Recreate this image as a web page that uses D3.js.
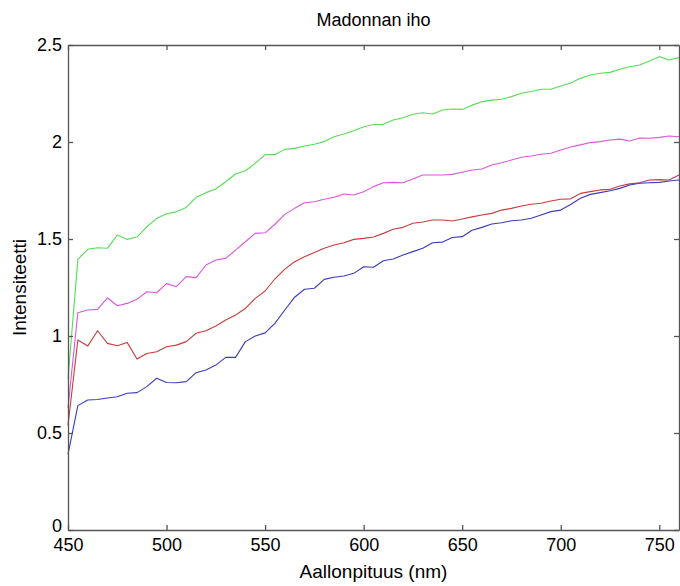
<!DOCTYPE html>
<html>
<head>
<meta charset="utf-8">
<script src="https://cdn.jsdelivr.net/npm/d3@7/dist/d3.min.js"></script>
<style>
  html, body { margin: 0; padding: 0; background: #fff; }
  text { font-family: "Liberation Sans", Arial, sans-serif; fill: #000; }
</style>
</head>
<body>
<svg id="chart" width="680" height="586"></svg>
<script>
const wavelengths = d3.range(450, 761, 5);
const green = [0.78,1.395,1.447,1.455,1.452,1.52,1.498,1.51,1.563,1.606,1.63,1.64,1.663,1.715,1.739,1.758,1.795,1.835,1.852,1.89,1.935,1.935,1.962,1.967,1.979,1.988,2.002,2.027,2.041,2.058,2.079,2.09,2.091,2.113,2.125,2.143,2.151,2.144,2.165,2.17,2.168,2.19,2.208,2.216,2.22,2.234,2.251,2.26,2.272,2.272,2.289,2.304,2.328,2.345,2.354,2.359,2.375,2.388,2.397,2.418,2.44,2.423,2.435];
const magenta = [0.63,1.12,1.134,1.137,1.197,1.156,1.168,1.189,1.228,1.223,1.27,1.254,1.306,1.301,1.366,1.392,1.40,1.443,1.486,1.529,1.532,1.576,1.627,1.658,1.687,1.692,1.705,1.715,1.732,1.727,1.744,1.77,1.79,1.792,1.79,1.809,1.83,1.83,1.83,1.833,1.844,1.856,1.861,1.881,1.893,1.907,1.921,1.928,1.937,1.942,1.959,1.974,1.985,1.997,2.002,2.01,2.015,2.005,2.021,2.019,2.024,2.031,2.027];
const red = [0.54,0.979,0.948,1.027,0.962,0.95,0.967,0.881,0.91,0.919,0.945,0.953,0.971,1.014,1.027,1.052,1.082,1.108,1.142,1.194,1.232,1.295,1.345,1.383,1.409,1.43,1.452,1.469,1.481,1.498,1.503,1.51,1.529,1.55,1.56,1.581,1.588,1.598,1.598,1.593,1.603,1.614,1.624,1.632,1.649,1.658,1.67,1.679,1.684,1.696,1.705,1.707,1.735,1.744,1.753,1.756,1.773,1.784,1.79,1.804,1.806,1.804,1.83];
const blue = [0.39,0.641,0.67,0.673,0.68,0.687,0.705,0.708,0.739,0.782,0.76,0.759,0.765,0.811,0.825,0.85,0.89,0.89,0.971,1.0,1.016,1.065,1.134,1.2,1.241,1.246,1.292,1.303,1.309,1.323,1.357,1.354,1.388,1.397,1.418,1.435,1.452,1.481,1.484,1.508,1.512,1.545,1.56,1.577,1.584,1.594,1.598,1.607,1.624,1.641,1.649,1.678,1.71,1.73,1.739,1.749,1.761,1.778,1.787,1.79,1.792,1.799,1.804];
const xTicks = [450,500,550,600,650,700,750];
const yTicks = [0,0.5,1,1.5,2,2.5];
const seriesNames = ["green","magenta","red","blue"];
const seriesColors = ["#55dd55","#dd55dd","#cc3b3b","#3b3bbb"];
const titleText = "Madonnan iho";
const xLabel = "Aallonpituus (nm)";
const yLabel = "Intensiteetti";

const svg = d3.select("#chart");
const L = 68, R = 679, T = 45, B = 530;
const x = d3.scaleLinear().domain([450, 760]).range([L, R]);
const y = d3.scaleLinear().domain([0, 2.5]).range([B, T]);
const axisColor = "#555";
const fs = 18;

// series
const line = d3.line().x((d, i) => x(wavelengths[i])).y(d => y(d));
const allSeries = [green, magenta, red, blue];
allSeries.forEach((s, k) => {
  svg.append("path").datum(s)
    .attr("d", line)
    .attr("fill", "none")
    .attr("stroke", seriesColors[k])
    .attr("stroke-width", 1.1)
    .attr("stroke-linejoin", "round");
});

// axes
const tickLen = 5;
const gB = svg.append("g").attr("transform", `translate(0,${B})`)
  .call(d3.axisBottom(x).tickValues(xTicks).tickSizeInner(-tickLen).tickSizeOuter(0).tickPadding(10));
const gT = svg.append("g").attr("transform", `translate(0,${T})`)
  .call(d3.axisTop(x).tickValues(xTicks).tickSizeInner(-tickLen).tickSizeOuter(0).tickFormat(""));
const gL = svg.append("g").attr("transform", `translate(${L},0)`)
  .call(d3.axisLeft(y).tickValues(yTicks).tickSizeInner(-tickLen).tickSizeOuter(0).tickPadding(6).tickFormat(d3.format("~g")));
const gR = svg.append("g").attr("transform", `translate(${R},0)`)
  .call(d3.axisRight(y).tickValues(yTicks).tickSizeInner(-tickLen).tickSizeOuter(0).tickFormat(""));
[gB, gT, gL, gR].forEach(g => {
  g.selectAll(".domain").attr("stroke", axisColor).attr("stroke-width", 1.3);
  g.selectAll(".tick line").attr("stroke", axisColor).attr("stroke-width", 1.3);
  g.selectAll(".tick text").attr("font-size", fs).attr("font-family", "Liberation Sans, Arial, sans-serif").attr("fill", "#000");
});
gB.selectAll(".tick text").attr("dy", "0.6em");
gL.selectAll(".tick text").attr("dy", d => d === 0 ? "0.1em" : "0.3em");

// titles
svg.append("text").attr("x", (L + R) / 2).attr("y", 26).attr("text-anchor", "middle")
  .attr("font-size", 18).text(titleText);
svg.append("text").attr("x", (L + R) / 2).attr("y", 578).attr("text-anchor", "middle")
  .attr("font-size", 19).text(xLabel);
svg.append("text").attr("transform", `translate(26,${(T + B) / 2}) rotate(-90)`).attr("text-anchor", "middle")
  .attr("font-size", 19).text(yLabel);
</script>
</body>
</html>
